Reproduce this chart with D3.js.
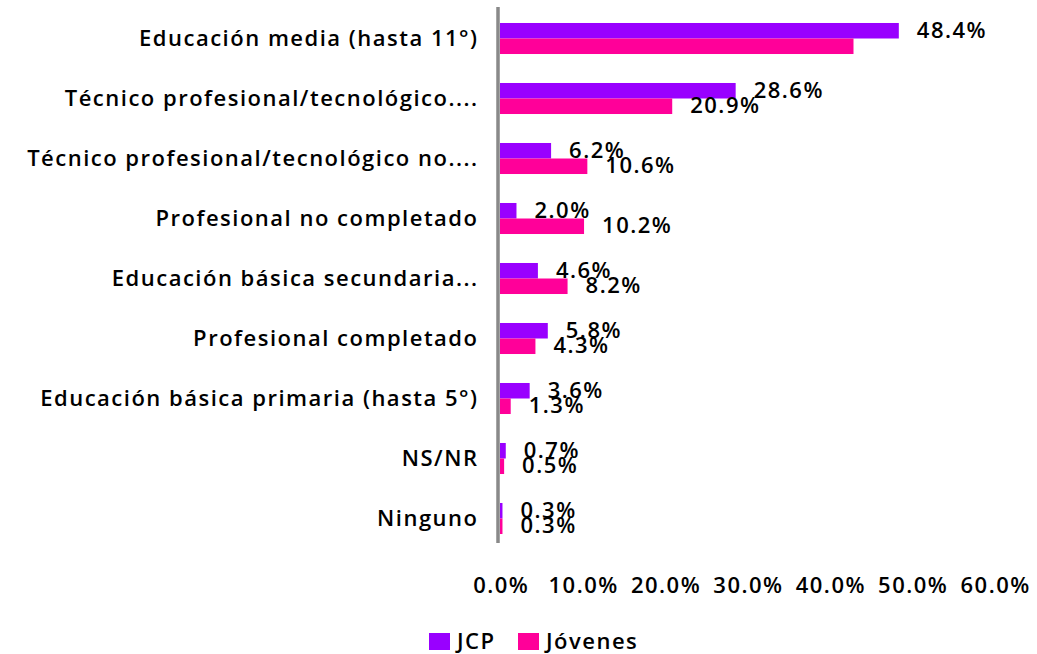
<!DOCTYPE html>
<html><head><meta charset="utf-8">
<script src="https://cdn.jsdelivr.net/npm/d3@7"></script>
<style>
html,body{margin:0;padding:0;background:#fff;}
text{font-family:"Open Sans",Lato,sans-serif;font-weight:600;fill:#000;letter-spacing:1.5px;}
</style></head>
<body><svg id="c" width="1037" height="654"></svg>
<script>
const categories = ["Educación media (hasta 11°)","Técnico profesional/tecnológico....","Técnico profesional/tecnológico no....","Profesional no completado","Educación básica secundaria...","Profesional completado","Educación básica primaria (hasta 5°)","NS/NR","Ninguno"];
const seriesNames = ["JCP","Jóvenes"];
const jcp = [48.4,28.6,6.2,2.0,4.6,5.8,3.6,0.7,0.3];
const jovenes = [42.9,20.9,10.6,10.2,8.2,4.3,1.3,0.5,0.3];
const jcpLabels = ["48.4%","28.6%","6.2%","2.0%","4.6%","5.8%","3.6%","0.7%","0.3%"];
const jovenesLabels = ["","20.9%","10.6%","10.2%","8.2%","4.3%","1.3%","0.5%","0.3%"];
const xTicks = [0,10,20,30,40,50,60];
const colors = ["#9900FF","#FF0099"];

const svg = d3.select("#c");
const x = d3.scaleLinear().domain([0,60]).range([500,994.4]);
const y = d3.scaleBand().domain(categories).range([8.5,548.5]).paddingInner(0.483).paddingOuter(0.2415);
const sub = d3.scaleBand().domain(seriesNames).range([0,y.bandwidth()]);

const series = [jcp, jovenes];
const labels = [jcpLabels, jovenesLabels];
const FONT = "'Open Sans',Lato,sans-serif";
const FS = "22px";

series.forEach((vals,si)=>{
  const g = svg.append("g");
  g.selectAll("rect").data(vals).enter().append("rect")
    .attr("x", x(0))
    .attr("y", (d,i)=> y(categories[i]) + sub(seriesNames[si]))
    .attr("width", d=> x(d)-x(0))
    .attr("height", sub.bandwidth())
    .attr("fill", colors[si]);
  g.selectAll("text").data(vals).enter().append("text")
    .attr("x", d=> x(d)+18)
    .attr("y", (d,i)=> y(categories[i]) + sub(seriesNames[si]) + sub.bandwidth()/2 - 2)
    .attr("dominant-baseline","central")
    .style("font-size",FS)
    .text((d,i)=> labels[si][i]);
});

// category labels
const yAxis = d3.axisLeft(y).tickSize(0).tickPadding(0);
const ga = svg.append("g").attr("transform","translate(478.5,0)").call(yAxis);
ga.select(".domain").remove();
ga.selectAll("text").style("font-size",FS).attr("dy","0.35em").style("font-family",FONT).style("font-weight","600").attr("fill","#000");

// vertical axis line
svg.append("line").attr("x1",498).attr("x2",498).attr("y1",7).attr("y2",543)
  .attr("stroke","#898989").attr("stroke-width",3.5);

// x axis
const xAxis = d3.axisBottom(x).tickValues(xTicks).tickSize(0).tickPadding(0).tickFormat(d=> d.toFixed(1)+"%");
const gx = svg.append("g").attr("transform","translate(0.75,585)").call(xAxis);
gx.select(".domain").remove();
gx.selectAll("text").style("font-size",FS).attr("dy","0.35em").style("font-family",FONT).style("font-weight","600").attr("fill","#000");

// legend
const legX = [429,518];
const lg = svg.append("g");
seriesNames.forEach((n,i)=>{
  lg.append("rect").attr("x",legX[i]).attr("y",633).attr("width",21).attr("height",17).attr("fill",colors[i]);
  lg.append("text").attr("x",legX[i]+28).attr("y",649).style("font-size",FS).text(n);
});
</script></body></html>
